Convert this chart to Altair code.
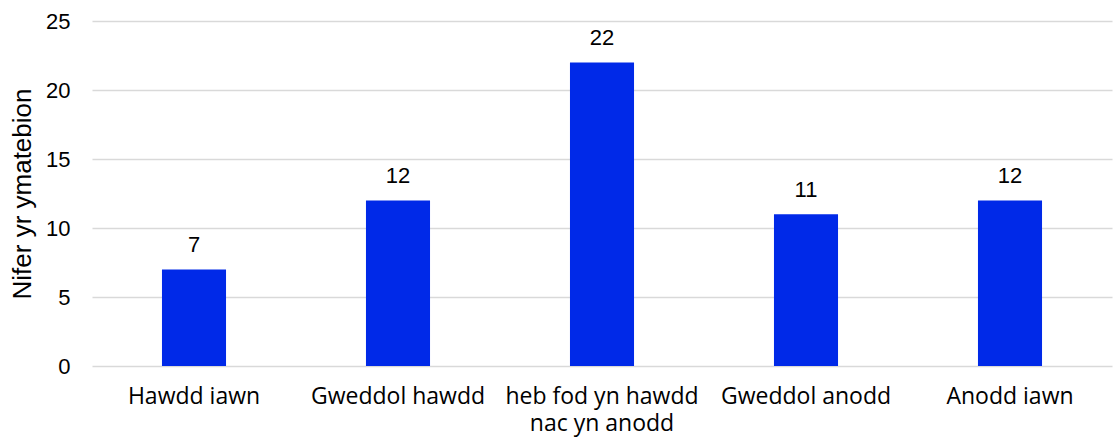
import altair as alt
import pandas as pd

categories = [
    "Hawdd iawn",
    "Gweddol hawdd",
    "heb fod yn hawdd nac yn anodd",
    "Gweddol anodd",
    "Anodd iawn",
]
counts = [7, 12, 22, 11, 12]
y_ticks = [0, 5, 10, 15, 20, 25]

df = pd.DataFrame({"ateb": categories, "nifer": counts})

label_expr = (
    "datum.label == 'heb fod yn hawdd nac yn anodd' "
    "? ['heb fod yn hawdd', 'nac yn anodd'] : datum.label"
)

x_scale = alt.Scale(paddingInner=0.686, paddingOuter=0.343)
y_scale = alt.Scale(domain=[0, 25], nice=False)

x_enc = alt.X(
    "ateb:N",
    sort=categories,
    title=None,
    scale=x_scale,
    axis=alt.Axis(
        labelAngle=0,
        labelFont="Open Sans",
        labelFontSize=23,
        labelColor="#000000",
        labelPadding=19,
        labelLineHeight=27,
        labelLimit=400,
        labelExpr=label_expr,
        ticks=False,
        domain=False,
        grid=False,
    ),
)

y_enc = alt.Y(
    "nifer:Q",
    title="Nifer yr ymatebion",
    scale=y_scale,
    axis=alt.Axis(
        values=y_ticks,
        labelFont="Liberation Sans",
        labelFontSize=22,
        labelColor="#000000",
        labelPadding=22,
        titleFont="Liberation Sans",
        titleFontSize=26,
        titleFontWeight="normal",
        titleColor="#000000",
        titlePadding=10,
        ticks=False,
        domain=False,
        gridColor="#d9d9d9",
        gridWidth=1.5,
    ),
)

bars = alt.Chart(df).mark_bar(color="#0029E8").encode(x=x_enc, y=y_enc)

labels = alt.Chart(df).mark_text(
    baseline="alphabetic",
    dy=-17,
    font="Liberation Sans",
    fontSize=22,
    color="#000000",
).encode(
    x=alt.X("ateb:N", sort=categories, scale=x_scale),
    y=alt.Y("nifer:Q", scale=y_scale),
    text="nifer:Q",
)

chart = (
    alt.layer(bars, labels)
    .properties(
        width=1020,
        height=345,
        autosize=alt.AutoSizeParams(type="none"),
        padding={"left": 92, "top": 21, "right": 1, "bottom": 71},
    )
    .configure(background="#ffffff")
    .configure_view(stroke="transparent", strokeWidth=0)
)

chart.save("out.html", embed_options={"renderer": "svg", "actions": False})
